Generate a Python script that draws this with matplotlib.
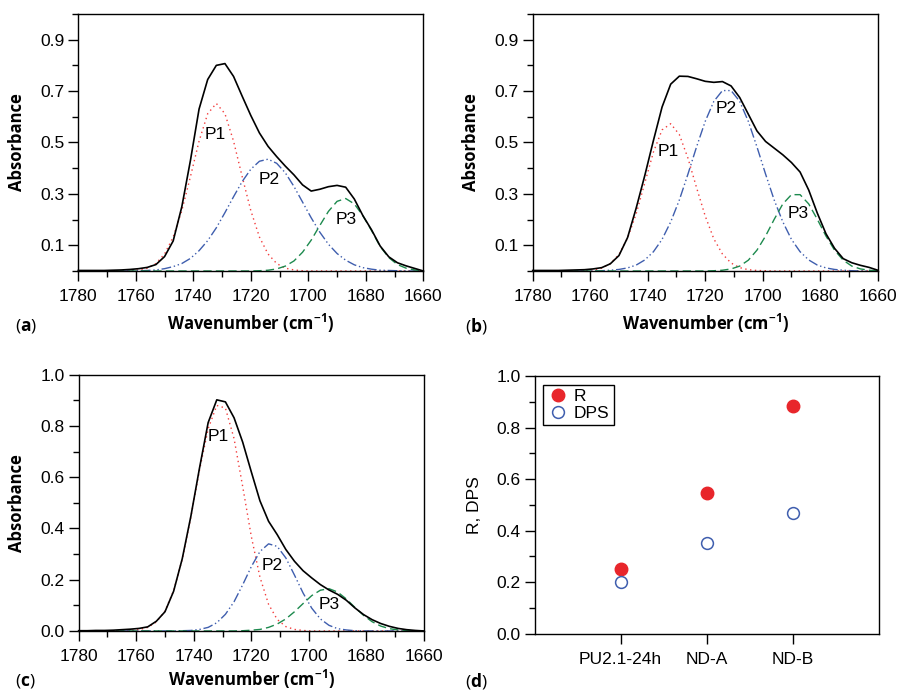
import matplotlib
matplotlib.use('Agg')
import matplotlib.pyplot as plt
from matplotlib.ticker import MultipleLocator

plt.rcParams['font.family'] = ['Liberation Sans', 'DejaVu Sans']
plt.rcParams['mathtext.fontset'] = 'custom'
plt.rcParams['mathtext.rm'] = 'Open Sans'
plt.rcParams['mathtext.bf'] = 'Open Sans:bold'
plt.rcParams['mathtext.default'] = 'regular'

# wavenumber grid (cm-1), read every 3 cm-1
wn = list(range(1780, 1659, -3))

# panel (a)
a_total = [0.002, 0.002, 0.002, 0.002, 0.003, 0.004, 0.006, 0.009, 0.014, 0.025,
           0.056, 0.117, 0.25, 0.43, 0.63, 0.745, 0.80, 0.807, 0.757, 0.68,
           0.605, 0.537, 0.485, 0.445, 0.408, 0.374, 0.335, 0.311, 0.318, 0.328,
           0.333, 0.326, 0.28, 0.215, 0.16, 0.097, 0.055, 0.032, 0.02, 0.01, 0.0]
a_p1 = [0, 0, 0, 0, 0, 0, 0.001, 0.004, 0.011, 0.029,
        0.066, 0.132, 0.235, 0.367, 0.505, 0.612, 0.652, 0.612, 0.505, 0.367,
        0.235, 0.132, 0.066, 0.029, 0.011, 0.004, 0.001, 0, 0, 0,
        0, 0, 0, 0, 0, 0, 0, 0, 0, 0, 0]
a_p2 = [0, 0, 0, 0, 0, 0, 0, 0.001, 0.002, 0.004,
        0.009, 0.017, 0.029, 0.049, 0.079, 0.118, 0.168, 0.227, 0.289, 0.348,
        0.396, 0.427, 0.435, 0.419, 0.382, 0.329, 0.268, 0.207, 0.151, 0.104,
        0.068, 0.042, 0.024, 0.013, 0.007, 0.003, 0.002, 0.001, 0, 0, 0]
a_p3 = [0, 0, 0, 0, 0, 0, 0, 0, 0, 0,
        0, 0, 0, 0, 0, 0, 0, 0, 0, 0,
        0, 0.001, 0.003, 0.008, 0.019, 0.039, 0.073, 0.120, 0.177, 0.232,
        0.271, 0.282, 0.261, 0.215, 0.157, 0.095, 0.052, 0.025, 0.011, 0.004, 0.001]

# panel (b)
b_total = [0.002, 0.002, 0.002, 0.002, 0.003, 0.004, 0.005, 0.008, 0.013, 0.028,
           0.06, 0.13, 0.245, 0.372, 0.508, 0.638, 0.727, 0.758, 0.757, 0.748,
           0.738, 0.734, 0.737, 0.72, 0.675, 0.61, 0.545, 0.504, 0.478, 0.452,
           0.422, 0.385, 0.315, 0.225, 0.145, 0.088, 0.048, 0.032, 0.022, 0.014, 0.003]
b_p1 = [0, 0, 0, 0, 0, 0, 0.001, 0.004, 0.011, 0.029,
        0.064, 0.128, 0.223, 0.343, 0.463, 0.549, 0.573, 0.531, 0.439, 0.324,
        0.214, 0.125, 0.066, 0.031, 0.013, 0.005, 0.002, 0.001, 0, 0,
        0, 0, 0, 0, 0, 0, 0, 0, 0, 0, 0]
b_p2 = [0, 0, 0, 0, 0, 0, 0, 0, 0.001, 0.003,
        0.006, 0.012, 0.023, 0.043, 0.075, 0.123, 0.191, 0.276, 0.377, 0.483,
        0.582, 0.660, 0.702, 0.702, 0.660, 0.582, 0.483, 0.377, 0.276, 0.191,
        0.123, 0.075, 0.043, 0.023, 0.012, 0.006, 0.003, 0.001, 0, 0, 0]
b_p3 = [0, 0, 0, 0, 0, 0, 0, 0, 0, 0,
        0, 0, 0, 0, 0, 0, 0, 0, 0, 0,
        0, 0.001, 0.003, 0.008, 0.019, 0.042, 0.081, 0.136, 0.201, 0.261,
        0.297, 0.297, 0.261, 0.201, 0.136, 0.081, 0.042, 0.019, 0.008, 0.003, 0.001]

# panel (c)
c_total = [0.001, 0.001, 0.002, 0.002, 0.003, 0.005, 0.007, 0.010, 0.016, 0.038,
           0.075, 0.155, 0.282, 0.448, 0.636, 0.813, 0.902, 0.894, 0.832, 0.737,
           0.621, 0.508, 0.428, 0.376, 0.318, 0.272, 0.235, 0.207, 0.181, 0.16,
           0.143, 0.12, 0.09, 0.064, 0.044, 0.029, 0.018, 0.01, 0.005, 0.002, 0.0]
c_p1 = [0, 0, 0, 0, 0, 0, 0.002, 0.005, 0.014, 0.035,
        0.078, 0.157, 0.280, 0.445, 0.628, 0.789, 0.880, 0.870, 0.751, 0.564,
        0.369, 0.210, 0.104, 0.045, 0.017, 0.006, 0.002, 0, 0, 0,
        0, 0, 0, 0, 0, 0, 0, 0, 0, 0, 0]
c_p2 = [0, 0, 0, 0, 0, 0, 0, 0, 0, 0,
        0, 0, 0.001, 0.002, 0.006, 0.014, 0.032, 0.065, 0.114, 0.180,
        0.251, 0.310, 0.340, 0.330, 0.285, 0.218, 0.148, 0.089, 0.047, 0.022,
        0.009, 0.004, 0.001, 0, 0, 0, 0, 0, 0, 0, 0]
c_p3 = [0, 0, 0, 0, 0, 0, 0, 0, 0, 0,
        0, 0, 0, 0, 0, 0, 0, 0, 0, 0.001,
        0.003, 0.006, 0.014, 0.027, 0.047, 0.075, 0.107, 0.138, 0.159, 0.165,
        0.152, 0.125, 0.092, 0.061, 0.036, 0.019, 0.009, 0.004, 0.002, 0.001, 0]

# peak label positions (wavenumber, absorbance)
a_lab = [(1732.5, 0.531), (1713.6, 0.357), (1687.0, 0.201)]
b_lab = [(1732.8, 0.466), (1712.6, 0.632), (1687.8, 0.223)]
c_lab = [(1731.5, 0.758), (1712.7, 0.255), (1692.9, 0.104)]

# panel (d)
samples = ['PU2.1-24h', 'ND-A', 'ND-B']
r_vals = [0.252, 0.547, 0.884]
dps_vals = [0.201, 0.353, 0.468]

RED = '#f23c3c'
BLUE = '#3f5eae'
GREEN = '#1d8a4e'
TICK_FS = 12.5
LAB_FS = 12

fig = plt.figure(figsize=(8.98, 6.92), dpi=100)


def style_axes(ax):
    for s in ax.spines.values():
        s.set_linewidth(1.0)
    ax.tick_params(which='major', direction='out', length=7, width=1.0,
                   labelsize=TICK_FS)
    ax.tick_params(which='minor', direction='out', length=4.5, width=1.0)
    ax.tick_params(axis='x', which='major', pad=6)
    ax.tick_params(axis='y', which='major', pad=3)


def spectrum(rect, total, p1, p2, p3, labels, yticks, minor, xlab_y):
    ax = fig.add_axes(rect)
    ax.plot(wn, p1, color=RED, lw=1.0, dashes=(1, 2.5), clip_on=False)
    ax.plot(wn, p2, color=BLUE, lw=1.0, dashes=(7, 2, 1, 2, 1, 2), clip_on=False)
    ax.plot(wn, p3, color=GREEN, lw=1.0, dashes=(6, 3), clip_on=False)
    ax.plot(wn, total, color='black', lw=1.2, clip_on=False,
            solid_joinstyle='round')
    for name, (x, y) in zip(['P1', 'P2', 'P3'], labels):
        ax.text(x, y, name, fontsize=12.5, ha='center', va='center')
    ax.set_xlim(1780, 1660)
    ax.set_ylim(0, 1.0)
    ax.xaxis.set_major_locator(MultipleLocator(20))
    ax.xaxis.set_minor_locator(MultipleLocator(10))
    ax.set_yticks(yticks)
    ax.set_yticklabels([f'{t:.1f}' for t in yticks])
    ax.yaxis.set_minor_locator(MultipleLocator(minor))
    style_axes(ax)
    ax.set_xlabel('Wavenumber (cm$^{-1}$)', family='Open Sans',
                  fontweight='bold', fontsize=LAB_FS)
    ax.xaxis.set_label_coords(0.5, xlab_y)
    ax.set_ylabel('Absorbance', family='Open Sans', fontweight='bold',
                  fontsize=LAB_FS)
    ax.yaxis.set_label_coords(-0.152, 0.5)
    return ax


odd = [0.1, 0.3, 0.5, 0.7, 0.9]
spectrum([0.0872, 0.6084, 0.3842, 0.3714], a_total, a_p1, a_p2, a_p3,
         a_lab, odd, 0.2, -0.158)
spectrum([0.5932, 0.6084, 0.3842, 0.3714], b_total, b_p1, b_p2, b_p3,
         b_lab, odd, 0.2, -0.158)
spectrum([0.0876, 0.0882, 0.3845, 0.3703], c_total, c_p1, c_p2, c_p3,
         c_lab, [0.0, 0.2, 0.4, 0.6, 0.8, 1.0], 0.1, -0.146)

# panel (d)
axd = fig.add_axes([0.5954, 0.0843, 0.3831, 0.3724])
xs = list(range(len(samples)))
axd.plot(xs, r_vals, 'o', color='#e8262b', ms=9, label='R', clip_on=False)
axd.plot(xs, dps_vals, 'o', mfc='white', mec=BLUE, mew=1.1, ms=8.5,
         label='DPS', clip_on=False)
axd.set_xlim(-1, 3)
axd.set_ylim(0, 1.0)
axd.set_xticks(xs)
axd.set_xticklabels(samples)
axd.set_yticks([0.0, 0.2, 0.4, 0.6, 0.8, 1.0])
axd.set_yticklabels(['0.0', '0.2', '0.4', '0.6', '0.8', '1.0'])
axd.yaxis.set_minor_locator(MultipleLocator(0.1))
style_axes(axd)
axd.set_ylabel('R, DPS', fontsize=12.5)
axd.yaxis.set_label_coords(-0.153, 0.5)
leg = axd.legend(loc='upper left', fontsize=12.5, frameon=True, fancybox=False,
                 edgecolor='black', framealpha=1, borderaxespad=0.5,
                 handletextpad=0.3, handlelength=1.2, borderpad=0.25,
                 labelspacing=0.1, numpoints=1)
leg.get_frame().set_linewidth(1.0)

# panel letters
for x, y, letter in [(0.0167, 0.5296, 'a'), (0.5178, 0.5296, 'b'),
                     (0.0167, 0.0165, 'c'), (0.5178, 0.0165, 'd')]:
    fig.text(x, y, '($\\mathbf{' + letter + '}$)', family='Open Sans',
             fontsize=12.5, va='center', ha='left')

fig.savefig('out.png', dpi=100)
